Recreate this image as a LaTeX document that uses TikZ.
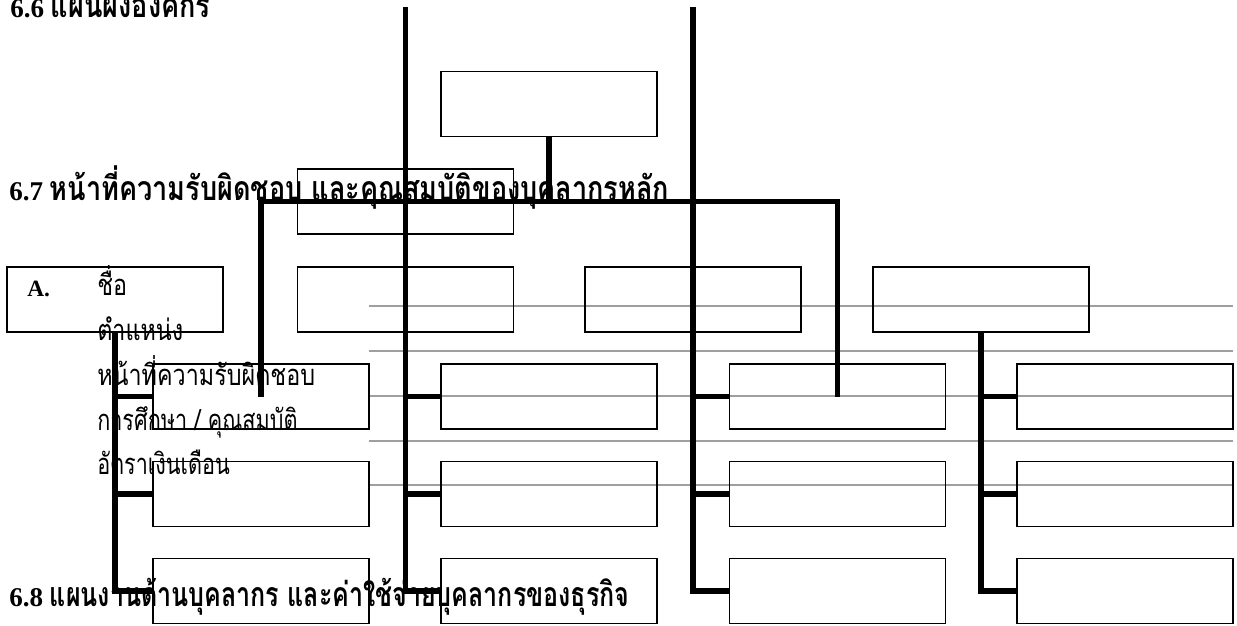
\documentclass[tikz,border=0pt]{standalone}
\usepackage{fontspec}
\setmainfont{Liberation Serif}
\newfontfamily\thaifont[Script=Thai,Scale=1.25,FakeStretch=0.8]{Loma}
\newfontfamily\thaietroit[Script=Thai,Scale=1.25,FakeStretch=0.74]{Loma}

\begin{document}
\begin{tikzpicture}[x=0.75pt,y=-0.75pt]
\tikzset{boite/.style={draw, line width=1.1pt, minimum width=162pt, minimum height=48.75pt, inner sep=0pt}}
\tikzset{lien/.style={line width=3.8pt}}
\tikzset{regle/.style={draw=gray!75, line width=0.8pt}}
\tikzset{texte/.style={anchor=base west, inner sep=0pt, font=\fontsize{17.5}{20}\selectfont}}
\tikzset{titre/.style={anchor=base west, inner sep=0pt, font=\fontsize{20.3}{22}\selectfont\bfseries}}
\useasboundingbox (0,0) rectangle (1237,625);
\draw[regle] (369,306) -- (1233,306);
\draw[regle] (369,351) -- (1233,351);
\draw[regle] (369,396) -- (1233,396);
\draw[regle] (369,441) -- (1233,441);
\draw[regle] (369,485) -- (1233,485);
\node[boite] (chef) at (549,104) {};
\node[boite] (adjoint) at (405.5,201.5) {};
\node[boite] (a2) at (115,299.5) {};
\node[boite] (b2) at (405.5,299.5) {};
\node[boite] (c2) at (693,299.5) {};
\node[boite] (d2) at (981,299.5) {};
\node[boite] (a3) at (261,396.5) {};
\node[boite] (b3) at (549,396.5) {};
\node[boite] (c3) at (837.5,396.5) {};
\node[boite] (d3) at (1125,396.5) {};
\node[boite] (a4) at (261,494) {};
\node[boite] (b4) at (549,494) {};
\node[boite] (c4) at (837.5,494) {};
\node[boite] (d4) at (1125,494) {};
\node[boite] (a5) at (261,591) {};
\node[boite] (b5) at (549,591) {};
\node[boite] (c5) at (837.5,591) {};
\node[boite] (d5) at (1125,591) {};
\coordinate (hautB) at (405.5,7);
\coordinate (hautC) at (693,7);
\draw[lien] (chef) -- (chef |- adjoint);
\draw[lien] (a3.center) |- (adjoint.center) -| (c3.center);
\draw[lien] (a2) |- (a5.west);
\draw[lien] (a2 |- a3) -- (a3.west);
\draw[lien] (a2 |- a4) -- (a4.west);
\draw[lien] (hautB) |- (b5.west);
\draw[lien] (hautB |- b3) -- (b3.west);
\draw[lien] (hautB |- b4) -- (b4.west);
\draw[lien] (hautC) |- (c5.west);
\draw[lien] (hautC |- c3) -- (c3.west);
\draw[lien] (hautC |- c4) -- (c4.west);
\draw[lien] (d2) |- (d5.west);
\draw[lien] (d2 |- d3) -- (d3.west);
\draw[lien] (d2 |- d4) -- (d4.west);
\node[titre] (t66) at (10,17) {6.6 {\thaifont แผนผังองค์กร}};
\node[titre] (t67) at (9,200) {6.7 {\thaifont หน้าที่ความรับผิดชอบ และคุณสมบัติของบุคลากรหลัก}};
\node[titre] (t68) at (9,606) {6.8 {\thaietroit แผนงานด้านบุคลากร และค่าใช้จ่ายบุคลากรของธุรกิจ}};
\node[texte] (lettre) at (27,296) {\bfseries A.};
\node[texte] (nom) at (97,295) {\thaifont ชื่อ};
\node[texte] (poste) at (97,340) {\thaifont ตำแหน่ง};
\node[texte] (devoir) at (97,385) {\thaifont หน้าที่ความรับผิดชอบ};
\node[texte] (etude) at (97,430) {\thaietroit การศึกษา / คุณสมบัติ};
\node[texte] (salaire) at (97,474) {\thaietroit อัตราเงินเดือน};
\end{tikzpicture}
\end{document}
